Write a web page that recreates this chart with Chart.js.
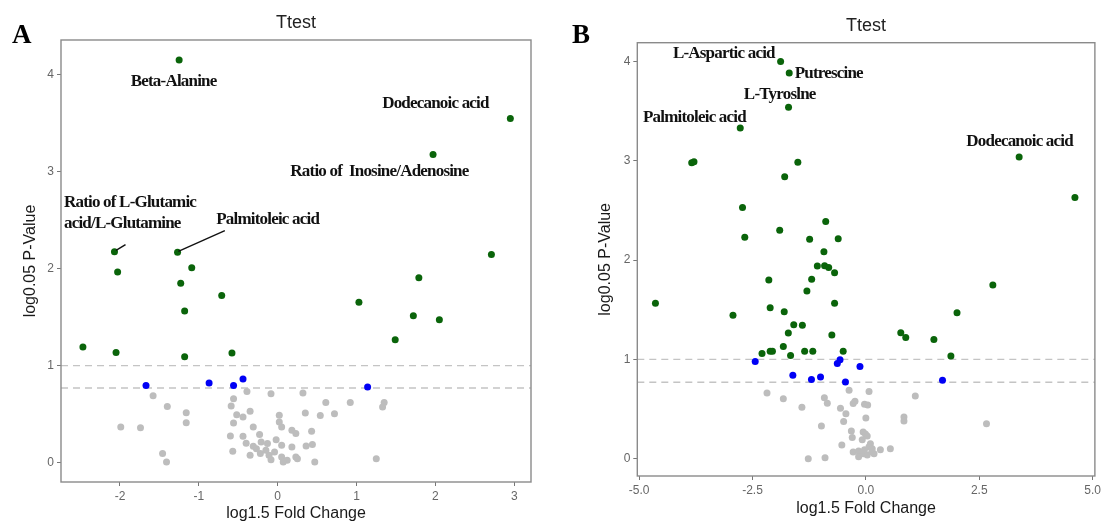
<!DOCTYPE html>
<html lang="en">
<head>
  <meta charset="UTF-8">
  <title>Ttest volcano plots</title>
  <script src="https://cdn.jsdelivr.net/npm/chart.js"></script>
  <style>
    body { margin: 0; background: #fff; overflow: hidden; }
    .panel { position: absolute; top: 0; }
  </style>
</head>
<body>
  <div class="panel" style="left:0"><canvas id="chartA" width="552" height="523"></canvas></div>
  <div class="panel" style="left:552px"><canvas id="chartB" width="552" height="518"></canvas></div>

  <script>
    // ---- panel A data (log1.5 fold change / log0.05 p-value) ----
    const aGreenFC = [-1.25, 2.95, 1.97, -2.07, -2.03, -1.27, -1.09, -1.23, -0.71, -1.18, 1.03, 1.79, 2.71, 1.72, 2.05, 1.49, -2.47, -2.05, -1.18, -0.58];
    const aGreenP  = [4.155, 3.55, 3.18, 2.175, 1.966, 2.17, 2.01, 1.85, 1.725, 1.564, 1.656, 1.907, 2.148, 1.515, 1.474, 1.268, 1.192, 1.137, 1.093, 1.131];
    const aBlueFC  = [-1.67, -0.87, -0.56, -0.44, 1.14];
    const aBlueP   = [0.797, 0.821, 0.797, 0.863, 0.78];
    const aGreyFC  = [-0.39, -0.085, 0.32, -1.58, -0.56, 0.61, 0.92, -1.40, -0.59, 1.35, 1.33, -1.16, -0.35, -0.52, -0.44, 0.72, 0.35, 0.54, 0.02, -0.56, -1.16, -1.99, -1.74, -0.31, 0.02, 0.05, 0.18, 0.23, 0.43, -0.60, -0.44, -0.23, -0.02, -0.21, -0.13, -0.31, 0.05, 0.18, 0.36, 0.44, -0.57, -0.35, -0.22, -0.11, -0.04, 0.05, 0.12, 0.23, 0.25, 0.47, 1.25, -1.46, -1.41, -0.15, -0.27, -0.085, 0.07, -0.40];
    const aGreyP   = [0.735, 0.711, 0.718, 0.69, 0.66, 0.62, 0.62, 0.58, 0.584, 0.62, 0.574, 0.515, 0.53, 0.495, 0.47, 0.505, 0.512, 0.485, 0.488, 0.41, 0.412, 0.368, 0.361, 0.368, 0.42, 0.368, 0.333, 0.30, 0.323, 0.275, 0.271, 0.289, 0.237, 0.213, 0.196, 0.168, 0.179, 0.162, 0.172, 0.186, 0.117, 0.076, 0.093, 0.076, 0.11, 0.058, 0.024, 0.058, 0.041, 0.007, 0.041, 0.093, 0.007, 0.127, 0.144, 0.03, 0.007, 0.20];
    const aXTicks = [-2, -1, 0, 1, 2, 3];
    const aYTicks = [0, 1, 2, 3, 4];
    const aLabels = ['Beta-Alanine', 'Dodecanoic acid', 'Ratio of  Inosine/Adenosine', 'Ratio of L-Glutamic', 'acid/L-Glutamine', 'Palmitoleic acid'];
    const aLabelFC = [-1.32, 2.0, 1.29, -2.71, -2.71, -0.78];
    const aLabelP  = [3.93, 3.70, 3.0, 2.68, 2.47, 2.505];

    // ---- panel B data ----
    const bGreenFC = [-1.88, -1.69, -1.705, -2.77, 3.38, 4.61, -3.84, -3.79, -1.50, -1.79, -2.72, -2.67, -1.90, -0.885, -1.24, -0.61, -0.925, -1.07, -0.91, -0.82, -0.69, -2.14, -1.195, -1.30, -0.69, -4.64, -2.11, -2.93, -1.80, -1.59, -1.40, -1.71, -0.75, -1.82, -2.29, -2.11, -2.06, -1.66, -1.35, -1.17, -0.50, 0.77, 0.88, 1.50, 1.875, 2.01, 2.80];
    const bGreenP  = [4.0, 3.886, 3.54, 3.33, 3.04, 2.63, 2.98, 2.99, 2.985, 2.84, 2.53, 2.23, 2.30, 2.39, 2.21, 2.215, 2.084, 1.94, 1.943, 1.926, 1.872, 1.80, 1.808, 1.69, 1.566, 1.566, 1.52, 1.445, 1.48, 1.35, 1.345, 1.267, 1.247, 1.13, 1.06, 1.082, 1.082, 1.04, 1.082, 1.082, 1.082, 1.27, 1.22, 1.20, 1.035, 1.47, 1.75];
    const bBlueFC  = [-2.44, -1.61, -1.20, -1.00, -0.63, -0.57, -0.45, -0.13, 1.69];
    const bBlueP   = [0.978, 0.84, 0.797, 0.823, 0.958, 0.998, 0.773, 0.93, 0.79];
    const bGreyFC  = [-2.18, -1.82, -1.41, -0.915, -0.85, -0.37, 0.07, 1.09, -0.56, -0.28, -0.24, -0.03, 0.04, -0.44, 0.0, 0.84, 0.84, -0.49, -0.98, 2.66, -0.32, -0.30, -0.06, -0.01, 0.03, -0.08, -0.53, -0.28, -0.16, -0.06, -0.03, 0.03, 0.07, 0.10, 0.14, 0.18, 0.32, 0.54, -0.16, -1.27, -0.90, 0.13];
    const bGreyP   = [0.662, 0.605, 0.518, 0.615, 0.558, 0.689, 0.676, 0.632, 0.508, 0.555, 0.578, 0.548, 0.54, 0.454, 0.41, 0.42, 0.38, 0.376, 0.33, 0.353, 0.28, 0.215, 0.27, 0.25, 0.23, 0.19, 0.138, 0.067, 0.077, 0.05, 0.09, 0.037, 0.12, 0.15, 0.10, 0.05, 0.09, 0.10, 0.02, 0.0, 0.01, 0.07];
    const bXTicks = [-5, -2.5, 0, 2.5, 5];
    const bYTicks = [0, 1, 2, 3, 4];
    const bLabels = ['L-Aspartic acid', 'Putrescine', 'L-Tyroslne', 'Palmitoleic acid', 'Dodecanoic acid'];
    const bLabelFC = [-2.01, -1.57, -1.90, -3.78, 3.39];
    const bLabelP  = [4.084, 3.876, 3.67, 3.44, 3.19];

    // p-value cutoffs drawn as dashed lines
    const cutoffs = [1, 0.77];

    const toPoints = (xs, ys) => xs.map((v, i) => ({ x: v, y: ys[i] }));

    const overlay = {
      id: 'overlay',
      beforeDatasetsDraw(chart, args, o) {
        const { ctx, chartArea: a, scales: { y } } = chart;
        ctx.save();
        ctx.strokeStyle = '#c4c4c4';
        ctx.lineWidth = 1.3;
        ctx.setLineDash([7, 5]);
        o.cutoffs.forEach(v => {
          const py = y.getPixelForValue(v);
          ctx.beginPath(); ctx.moveTo(a.left, py); ctx.lineTo(a.right, py); ctx.stroke();
        });
        ctx.restore();
      },
      afterDatasetsDraw(chart, args, o) {
        const { ctx, scales: { x, y } } = chart;
        ctx.save();
        ctx.fillStyle = '#111';
        ctx.font = 'bold 17px "Liberation Serif", "Times New Roman", serif';
        ctx.letterSpacing = '-0.8px';
        ctx.textBaseline = 'middle';
        o.labels.forEach((t, i) => {
          ctx.textAlign = o.align[i];
          ctx.fillText(t, x.getPixelForValue(o.labelX[i]), y.getPixelForValue(o.labelY[i]));
        });
        ctx.strokeStyle = '#111';
        ctx.lineWidth = 1.4;
        (o.leaders || []).forEach(l => {
          ctx.beginPath();
          ctx.moveTo(x.getPixelForValue(l[0]), y.getPixelForValue(l[1]));
          ctx.lineTo(x.getPixelForValue(l[2]), y.getPixelForValue(l[3]));
          ctx.stroke();
        });
        ctx.restore();
      },
      afterDraw(chart, args, o) {
        const { ctx, chartArea: a } = chart;
        ctx.save();
        ctx.strokeStyle = '#8a8a8a';
        ctx.lineWidth = 1.4;
        ctx.strokeRect(a.left, a.top, a.right - a.left, a.bottom - a.top);
        ctx.fillStyle = '#000';
        ctx.font = 'bold 27px "Liberation Serif", "Times New Roman", serif';
        ctx.textBaseline = 'alphabetic';
        ctx.fillText(o.letter, o.letterX, 43);
        ctx.restore();
      }
    };

    function makeChart(id, cfg) {
      const dot = { pointRadius: 3.5, pointHoverRadius: 3.5, borderWidth: 0 };
      return new Chart(document.getElementById(id), {
        type: 'scatter',
        data: {
          datasets: [
            { data: toPoints(cfg.greyX, cfg.greyY), backgroundColor: '#bdbdbd', ...dot },
            { data: toPoints(cfg.blueX, cfg.blueY), backgroundColor: '#0000f5', ...dot },
            { data: toPoints(cfg.greenX, cfg.greenY), backgroundColor: '#0a640a', ...dot }
          ]
        },
        plugins: [overlay],
        options: {
          responsive: false,
          animation: false,
          layout: { padding: { left: 0, top: 0, right: cfg.padRight, bottom: 0 } },
          plugins: {
            legend: { display: false },
            tooltip: { enabled: false },
            title: {
              display: true, text: 'Ttest', fullSize: false, color: '#222',
              font: { family: '"Liberation Sans", Arial, sans-serif', size: 18, weight: 'normal' },
              padding: { top: cfg.titleTop, bottom: cfg.titleBottom }
            },
            overlay: {
              cutoffs: cutoffs, labels: cfg.labels, labelX: cfg.labelX, labelY: cfg.labelY,
              align: cfg.align, leaders: cfg.leaders, letter: cfg.letter, letterX: cfg.letterX
            }
          },
          scales: {
            x: {
              type: 'linear', min: cfg.xMin, max: cfg.xMax,
              afterBuildTicks: s => { s.ticks = cfg.xTicks.map(v => ({ value: v })); },
              afterFit: s => { s.height = cfg.xHeight; },
              ticks: {
                color: '#666', padding: 3,
                font: { family: '"Liberation Sans", Arial, sans-serif', size: 12 },
                callback: cfg.xFormat
              },
              grid: { display: true, drawOnChartArea: false, drawTicks: true, tickLength: 4, color: '#777' },
              border: { display: false },
              title: {
                display: true, text: 'log1.5 Fold Change', color: '#1a1a1a', padding: 0,
                font: { family: '"Liberation Sans", Arial, sans-serif', size: 16 }
              }
            },
            y: {
              type: 'linear', min: cfg.yMin, max: cfg.yMax,
              afterBuildTicks: s => { s.ticks = cfg.yTicks.map(v => ({ value: v })); },
              afterFit: s => { s.width = cfg.yWidth; },
              ticks: {
                color: '#666', padding: 3,
                font: { family: '"Liberation Sans", Arial, sans-serif', size: 12 }
              },
              grid: { display: true, drawOnChartArea: false, drawTicks: true, tickLength: 4, color: '#777' },
              border: { display: false },
              title: {
                display: true, text: 'log0.05 P-Value', color: '#1a1a1a',
                padding: { top: cfg.yTitlePad, bottom: 0 },
                font: { family: '"Liberation Sans", Arial, sans-serif', size: 16 }
              }
            }
          }
        }
      });
    }

    makeChart('chartA', {
      greenX: aGreenFC, greenY: aGreenP, blueX: aBlueFC, blueY: aBlueP, greyX: aGreyFC, greyY: aGreyP,
      xTicks: aXTicks, yTicks: aYTicks, xFormat: v => String(v),
      xMin: -2.748, xMax: 3.212, yMin: -0.2, yMax: 4.361,
      padRight: 21, xHeight: 41, yWidth: 61, yTitlePad: 21,
      titleTop: 12.5, titleBottom: 5.9,
      labels: aLabels, labelX: aLabelFC, labelY: aLabelP,
      align: ['center', 'center', 'center', 'left', 'left', 'left'],
      leaders: [[-2.05, 2.19, -1.93, 2.25], [-1.26, 2.18, -0.67, 2.395]],
      letter: 'A', letterX: 12
    });

    makeChart('chartB', {
      greenX: bGreenFC, greenY: bGreenP, blueX: bBlueFC, blueY: bBlueP, greyX: bGreyFC, greyY: bGreyP,
      xTicks: bXTicks, yTicks: bYTicks, xFormat: v => v.toFixed(1),
      xMin: -5.04, xMax: 5.05, yMin: -0.174, yMax: 4.19,
      padRight: 6.3, xHeight: 42, yWidth: 85.3, yTitlePad: 44.4,
      titleTop: 15.2, titleBottom: 5.9,
      labels: bLabels, labelX: bLabelFC, labelY: bLabelP,
      align: ['right', 'left', 'center', 'center', 'center'],
      leaders: [],
      letter: 'B', letterX: 20
    });
  </script>
</body>
</html>
